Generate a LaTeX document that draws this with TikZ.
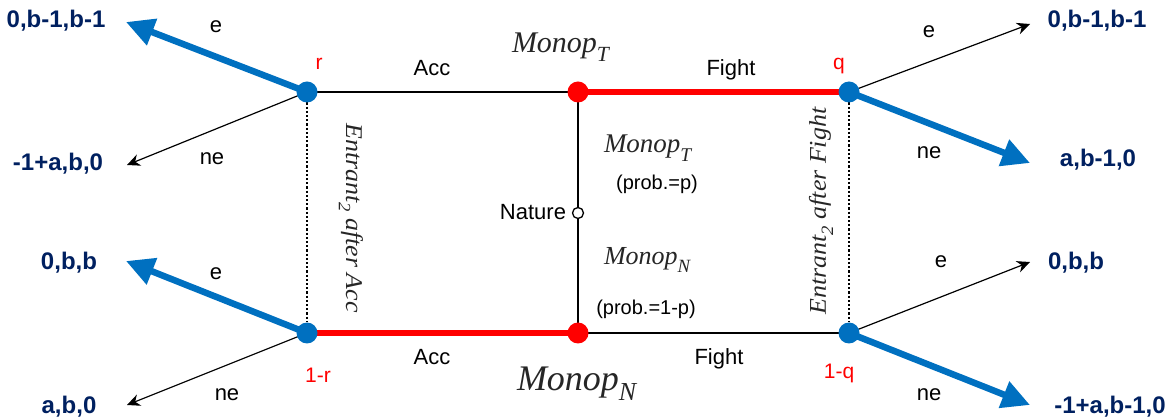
\documentclass[tikz,border=0pt]{standalone}
\usepackage{fontspec}
\setmainfont{Liberation Sans}
\newfontfamily\timesf{Liberation Serif}
\usetikzlibrary{arrows.meta}
\definecolor{navy}{HTML}{002060}
\definecolor{pblue}{HTML}{0070C0}
\definecolor{pred}{HTML}{FF0000}
\newcommand{\MonopSub}[1]{{\timesf\itshape Monop\raisebox{-0.3em}{\scalebox{0.72}{#1}}}}
\newcommand{\EntrantTxt}[1]{{\timesf\itshape Entrant\raisebox{-0.3em}{\scalebox{0.72}{2}} after #1}}
\pgfdeclarelayer{bg}
\pgfsetlayers{bg,main}
\begin{document}
\begin{tikzpicture}[x=1pt,y=-1pt,
  every node/.style={inner sep=0pt, outer sep=0pt},
  lbl/.style={font=\fontsize{22}{24}\selectfont, anchor=base},
  problbl/.style={font=\fontsize{20}{22}\selectfont, anchor=base},
  pay/.style={font=\fontsize{24}{26}\selectfont\bfseries, text=navy, anchor=base},
  redlbl/.style={font=\fontsize{21}{23}\selectfont, text=pred, anchor=base},
  bigmono/.style={font=\fontsize{#1}{#1}\selectfont, text=black!85, anchor=base west},
  rottxt/.style={font=\fontsize{24}{26}\selectfont, text=black!85},
  bluedot/.style={circle, fill=pblue, minimum size=21pt},
  reddot/.style={circle, fill=pred, minimum size=21pt},
  natdot/.style={circle, draw, fill=white, line width=1.3pt, minimum size=11pt},
  thinline/.style={line width=1.4pt},
  redline/.style={line width=6.5pt, pred},
  thinarrow/.style={line width=1.2pt, -{Stealth[length=13pt,width=12pt]}},
  bluearrow/.style={line width=6.5pt, pblue, -{Triangle[length=28pt,width=27pt]}},
  dottedline/.style={line width=1.3pt, dash pattern=on 2.2pt off 2pt},
]
\useasboundingbox (0,0) rectangle (1175,419);

% decision nodes
\node[bluedot] (r) at (307,92) {};
\node[reddot] (mt) at (578,92) {};
\node[bluedot] (q) at (849,92) {};
\node[bluedot] (r2) at (307,333) {};
\node[reddot] (mn) at (578,333) {};
\node[bluedot] (q2) at (849,333) {};
\node[natdot] (nat) at (578,213) {};

% arrow tips
\coordinate (tlA) at (126,22);
\coordinate (tlB) at (127,165);
\coordinate (trA) at (1030,24);
\coordinate (trB) at (1030,163);
\coordinate (blA) at (126,261);
\coordinate (blB) at (127,405);
\coordinate (brA) at (1030,262);
\coordinate (brB) at (1030,405);

\begin{pgfonlayer}{bg}
\draw[thinline] (r.center) -- (mt.center);
\draw[redline] (mt.center) -- (q.center);
\draw[redline] (r2.center) -- (mn.center);
\draw[thinline] (mn.center) -- (q2.center);
\draw[thinline] (mt.center) -- (nat);
\draw[thinline] (nat) -- (mn.center);
\draw[dottedline] (r) -- (r2);
\draw[dottedline] (q) -- (q2);
\draw[bluearrow] (r.center) -- (tlA);
\draw[thinarrow] (r.center) -- (tlB);
\draw[thinarrow] (q.center) -- (trA);
\draw[bluearrow] (q.center) -- (trB);
\draw[bluearrow] (r2.center) -- (blA);
\draw[thinarrow] (r2.center) -- (blB);
\draw[thinarrow] (q2.center) -- (brA);
\draw[bluearrow] (q2.center) -- (brB);
\end{pgfonlayer}

% payoffs
\node[pay] (p1) at (56,28) {0,b-1,b-1};
\node[pay] (p2) at (58,171) {-1+a,b,0};
\node[pay] (p3) at (69,270) {0,b,b};
\node[pay] (p4) at (69,413) {a,b,0};
\node[pay] (p5) at (1097,28) {0,b-1,b-1};
\node[pay] (p6) at (1098,167) {a,b-1,0};
\node[pay] (p7) at (1076,270) {0,b,b};
\node[pay] (p8) at (1110,413) {-1+a,b-1,0};

% branch labels
\node[lbl] (e1) at (216,33) {e};
\node[lbl] (ne1) at (212,165) {ne};
\node[lbl] (e2) at (929,38) {e};
\node[lbl] (ne2) at (929,159) {ne};
\node[lbl] (e3) at (216,280) {e};
\node[lbl] (ne3) at (227,400) {ne};
\node[lbl] (e4) at (941,268) {e};
\node[lbl] (ne4) at (929,400) {ne};

\node[lbl] (acc1) at (432,76) {Acc};
\node[lbl] (fig1) at (731,76) {Fight};
\node[lbl] (acc2) at (432,365) {Acc};
\node[lbl] (fig2) at (719,365) {Fight};
\node[lbl, anchor=base east] (natl) at (566,220) {Nature};

% probabilities
\node[redlbl] (pr) at (319,70) {r};
\node[redlbl] (pq) at (839,70) {q};
\node[redlbl] (pr2) at (318,382) {1-r};
\node[redlbl] (pq2) at (839,378) {1-q};

% monopolist types
\node[bigmono=30] (mT) at (512,53) {\MonopSub{T}};
\node[bigmono=36] (mN) at (517,390) {\MonopSub{N}};
\node[bigmono=27] (mT2) at (604,153) {\MonopSub{T}};
\node[bigmono=26] (mN2) at (604,265) {\MonopSub{N}};
\node[problbl] (pp) at (657,190) {(prob.=p)};
\node[problbl] (pp2) at (646,315) {(prob.=1-p)};

% information sets
\node[rottxt, rotate=-90] (ia) at (351,218) {\scalebox{1.08}[1]{\EntrantTxt{Acc}}};
\node[rottxt, rotate=90] (ifi) at (821,211) {\scalebox{1.08}[1]{\EntrantTxt{Fight}}};
\end{tikzpicture}
\end{document}
